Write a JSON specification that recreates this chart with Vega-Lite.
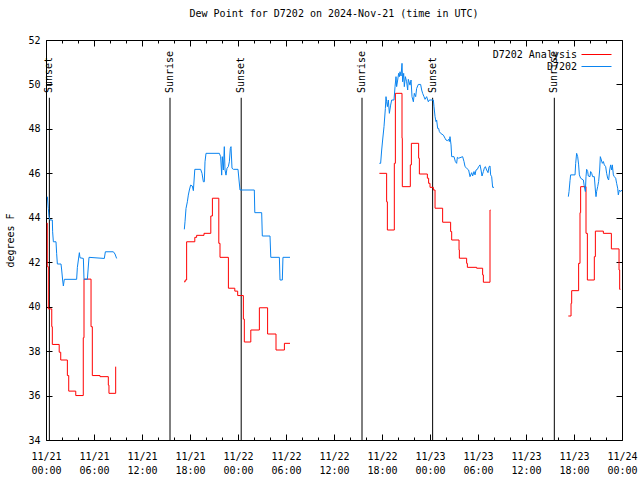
{
  "$schema": "https://vega.github.io/schema/vega-lite/v6.json",
  "width": 576,
  "height": 400,
  "autosize": {"type": "none"},
  "padding": {"left": 46, "top": 40, "right": 18, "bottom": 40},
  "background": "white",
  "title": {"text": "Dew Point for D7202 on 2024-Nov-21 (time in UTC)", "font": "DejaVu Sans Mono", "fontSize": 10, "fontWeight": "normal", "offset": 16, "anchor": "middle", "color": "black"},
  "config": {
    "view": {"stroke": "black", "strokeWidth": 1},
    "font": "DejaVu Sans Mono",
    "axis": {"domain": false, "grid": false, "tickColor": "black", "tickWidth": 1, "labelColor": "black", "labelFont": "DejaVu Sans Mono", "labelFontSize": 10, "titleFont": "DejaVu Sans Mono", "titleFontSize": 10, "titleFontWeight": "normal", "titleColor": "black"},
    "legend": {"labelFont": "DejaVu Sans Mono", "labelFontSize": 10, "labelColor": "black"}
  },
  "datasets": {
    "sun": [
      {"event": "Sunset", "hour": 0.42},
      {"event": "Sunrise", "hour": 15.5},
      {"event": "Sunset", "hour": 24.4},
      {"event": "Sunrise", "hour": 39.5},
      {"event": "Sunset", "hour": 48.33},
      {"event": "Sunrise", "hour": 63.54}
    ],
    "dew": [
      {"series": "D7202 Analysis", "seg": 1, "hour": 0.09, "dewpoint": 43.76},
      {"series": "D7202 Analysis", "seg": 1, "hour": 0.16, "dewpoint": 41.8},
      {"series": "D7202 Analysis", "seg": 1, "hour": 0.29, "dewpoint": 39.9},
      {"series": "D7202 Analysis", "seg": 1, "hour": 0.72, "dewpoint": 39.1},
      {"series": "D7202 Analysis", "seg": 1, "hour": 0.79, "dewpoint": 38.3},
      {"series": "D7202 Analysis", "seg": 1, "hour": 1.65, "dewpoint": 37.95},
      {"series": "D7202 Analysis", "seg": 1, "hour": 1.84, "dewpoint": 37.6},
      {"series": "D7202 Analysis", "seg": 1, "hour": 2.67, "dewpoint": 36.9},
      {"series": "D7202 Analysis", "seg": 1, "hour": 2.84, "dewpoint": 36.2},
      {"series": "D7202 Analysis", "seg": 1, "hour": 3.72, "dewpoint": 36.0},
      {"series": "D7202 Analysis", "seg": 1, "hour": 4.66, "dewpoint": 38.6},
      {"series": "D7202 Analysis", "seg": 1, "hour": 4.75, "dewpoint": 41.24},
      {"series": "D7202 Analysis", "seg": 1, "hour": 5.63, "dewpoint": 39.1},
      {"series": "D7202 Analysis", "seg": 1, "hour": 5.79, "dewpoint": 36.9},
      {"series": "D7202 Analysis", "seg": 1, "hour": 6.75, "dewpoint": 36.85},
      {"series": "D7202 Analysis", "seg": 1, "hour": 7.79, "dewpoint": 36.47},
      {"series": "D7202 Analysis", "seg": 1, "hour": 7.87, "dewpoint": 36.1},
      {"series": "D7202 Analysis", "seg": 1, "hour": 8.71, "dewpoint": 37.3},

      {"series": "D7202", "seg": 1, "hour": 0.17, "dewpoint": 44.95},
      {"series": "D7202", "seg": 1, "hour": 0.29, "dewpoint": 44.42},
      {"series": "D7202", "seg": 1, "hour": 0.375, "dewpoint": 44.05},
      {"series": "D7202", "seg": 1, "hour": 0.5, "dewpoint": 43.9},
      {"series": "D7202", "seg": 1, "hour": 0.79, "dewpoint": 43.9},
      {"series": "D7202", "seg": 1, "hour": 0.83, "dewpoint": 43.37},
      {"series": "D7202", "seg": 1, "hour": 0.92, "dewpoint": 42.92},
      {"series": "D7202", "seg": 1, "hour": 1.25, "dewpoint": 42.92},
      {"series": "D7202", "seg": 1, "hour": 1.33, "dewpoint": 42.4},
      {"series": "D7202", "seg": 1, "hour": 1.42, "dewpoint": 41.92},
      {"series": "D7202", "seg": 1, "hour": 1.875, "dewpoint": 41.92},
      {"series": "D7202", "seg": 1, "hour": 1.96, "dewpoint": 41.65},
      {"series": "D7202", "seg": 1, "hour": 2.08, "dewpoint": 41.2},
      {"series": "D7202", "seg": 1, "hour": 2.17, "dewpoint": 40.93},
      {"series": "D7202", "seg": 1, "hour": 2.29, "dewpoint": 41.23},
      {"series": "D7202", "seg": 1, "hour": 3.83, "dewpoint": 41.23},
      {"series": "D7202", "seg": 1, "hour": 3.92, "dewpoint": 41.77},
      {"series": "D7202", "seg": 1, "hour": 4.17, "dewpoint": 42.43},
      {"series": "D7202", "seg": 1, "hour": 4.25, "dewpoint": 42.2},
      {"series": "D7202", "seg": 1, "hour": 4.67, "dewpoint": 42.17},
      {"series": "D7202", "seg": 1, "hour": 4.75, "dewpoint": 41.23},
      {"series": "D7202", "seg": 1, "hour": 5.17, "dewpoint": 41.23},
      {"series": "D7202", "seg": 1, "hour": 5.375, "dewpoint": 42.22},
      {"series": "D7202", "seg": 1, "hour": 7.29, "dewpoint": 42.17},
      {"series": "D7202", "seg": 1, "hour": 7.42, "dewpoint": 42.47},
      {"series": "D7202", "seg": 1, "hour": 8.42, "dewpoint": 42.47},
      {"series": "D7202", "seg": 1, "hour": 8.625, "dewpoint": 42.37},
      {"series": "D7202", "seg": 1, "hour": 8.83, "dewpoint": 42.17},

      {"series": "D7202 Analysis", "seg": 2, "hour": 17.25, "dewpoint": 41.12},
      {"series": "D7202 Analysis", "seg": 2, "hour": 17.4, "dewpoint": 41.2},
      {"series": "D7202 Analysis", "seg": 2, "hour": 17.58, "dewpoint": 42.92},
      {"series": "D7202 Analysis", "seg": 2, "hour": 18.6, "dewpoint": 43.12},
      {"series": "D7202 Analysis", "seg": 2, "hour": 18.83, "dewpoint": 43.21},
      {"series": "D7202 Analysis", "seg": 2, "hour": 19.75, "dewpoint": 43.3},
      {"series": "D7202 Analysis", "seg": 2, "hour": 20.6, "dewpoint": 44.08},
      {"series": "D7202 Analysis", "seg": 2, "hour": 20.8, "dewpoint": 44.88},
      {"series": "D7202 Analysis", "seg": 2, "hour": 21.6, "dewpoint": 42.85},
      {"series": "D7202 Analysis", "seg": 2, "hour": 21.75, "dewpoint": 42.22},
      {"series": "D7202 Analysis", "seg": 2, "hour": 22.8, "dewpoint": 40.83},
      {"series": "D7202 Analysis", "seg": 2, "hour": 23.6, "dewpoint": 40.7},
      {"series": "D7202 Analysis", "seg": 2, "hour": 23.96, "dewpoint": 40.5},
      {"series": "D7202 Analysis", "seg": 2, "hour": 24.67, "dewpoint": 39.44},
      {"series": "D7202 Analysis", "seg": 2, "hour": 24.79, "dewpoint": 38.41},
      {"series": "D7202 Analysis", "seg": 2, "hour": 25.6, "dewpoint": 38.95},
      {"series": "D7202 Analysis", "seg": 2, "hour": 26.67, "dewpoint": 39.95},
      {"series": "D7202 Analysis", "seg": 2, "hour": 27.7, "dewpoint": 38.77},
      {"series": "D7202 Analysis", "seg": 2, "hour": 28.75, "dewpoint": 38.05},
      {"series": "D7202 Analysis", "seg": 2, "hour": 29.8, "dewpoint": 38.35},
      {"series": "D7202 Analysis", "seg": 2, "hour": 30.5, "dewpoint": 38.35},

      {"series": "D7202", "seg": 2, "hour": 17.29, "dewpoint": 43.48},
      {"series": "D7202", "seg": 2, "hour": 17.375, "dewpoint": 43.82},
      {"series": "D7202", "seg": 2, "hour": 17.5, "dewpoint": 44.42},
      {"series": "D7202", "seg": 2, "hour": 17.67, "dewpoint": 44.72},
      {"series": "D7202", "seg": 2, "hour": 17.79, "dewpoint": 45.02},
      {"series": "D7202", "seg": 2, "hour": 17.92, "dewpoint": 45.25},
      {"series": "D7202", "seg": 2, "hour": 18.08, "dewpoint": 45.47},
      {"series": "D7202", "seg": 2, "hour": 18.29, "dewpoint": 45.43},
      {"series": "D7202", "seg": 2, "hour": 18.42, "dewpoint": 45.22},
      {"series": "D7202", "seg": 2, "hour": 18.6, "dewpoint": 46.18},
      {"series": "D7202", "seg": 2, "hour": 19.33, "dewpoint": 46.18},
      {"series": "D7202", "seg": 2, "hour": 19.5, "dewpoint": 46.0},
      {"series": "D7202", "seg": 2, "hour": 19.67, "dewpoint": 45.62},
      {"series": "D7202", "seg": 2, "hour": 19.79, "dewpoint": 45.62},
      {"series": "D7202", "seg": 2, "hour": 19.875, "dewpoint": 46.52},
      {"series": "D7202", "seg": 2, "hour": 20.0, "dewpoint": 46.9},
      {"series": "D7202", "seg": 2, "hour": 21.67, "dewpoint": 46.9},
      {"series": "D7202", "seg": 2, "hour": 21.83, "dewpoint": 46.75},
      {"series": "D7202", "seg": 2, "hour": 21.96, "dewpoint": 45.92},
      {"series": "D7202", "seg": 2, "hour": 22.04, "dewpoint": 46.75},
      {"series": "D7202", "seg": 2, "hour": 22.17, "dewpoint": 46.15},
      {"series": "D7202", "seg": 2, "hour": 22.29, "dewpoint": 47.2},
      {"series": "D7202", "seg": 2, "hour": 22.375, "dewpoint": 46.15},
      {"series": "D7202", "seg": 2, "hour": 22.5, "dewpoint": 45.92},
      {"series": "D7202", "seg": 2, "hour": 22.625, "dewpoint": 46.23},
      {"series": "D7202", "seg": 2, "hour": 22.79, "dewpoint": 46.3},
      {"series": "D7202", "seg": 2, "hour": 22.92, "dewpoint": 46.52},
      {"series": "D7202", "seg": 2, "hour": 23.04, "dewpoint": 47.12},
      {"series": "D7202", "seg": 2, "hour": 23.125, "dewpoint": 47.2},
      {"series": "D7202", "seg": 2, "hour": 23.25, "dewpoint": 46.23},
      {"series": "D7202", "seg": 2, "hour": 23.42, "dewpoint": 46.18},
      {"series": "D7202", "seg": 2, "hour": 24.0, "dewpoint": 46.18},
      {"series": "D7202", "seg": 2, "hour": 24.125, "dewpoint": 45.7},
      {"series": "D7202", "seg": 2, "hour": 24.25, "dewpoint": 45.25},
      {"series": "D7202", "seg": 2, "hour": 26.04, "dewpoint": 45.25},
      {"series": "D7202", "seg": 2, "hour": 26.1, "dewpoint": 44.23},
      {"series": "D7202", "seg": 2, "hour": 26.96, "dewpoint": 44.23},
      {"series": "D7202", "seg": 2, "hour": 27.04, "dewpoint": 43.18},
      {"series": "D7202", "seg": 2, "hour": 28.0, "dewpoint": 43.18},
      {"series": "D7202", "seg": 2, "hour": 28.1, "dewpoint": 42.22},
      {"series": "D7202", "seg": 2, "hour": 29.17, "dewpoint": 42.22},
      {"series": "D7202", "seg": 2, "hour": 29.25, "dewpoint": 41.2},
      {"series": "D7202", "seg": 2, "hour": 29.54, "dewpoint": 41.2},
      {"series": "D7202", "seg": 2, "hour": 29.62, "dewpoint": 42.22},
      {"series": "D7202", "seg": 2, "hour": 30.5, "dewpoint": 42.22},

      {"series": "D7202 Analysis", "seg": 3, "hour": 41.67, "dewpoint": 46.0},
      {"series": "D7202 Analysis", "seg": 3, "hour": 42.58, "dewpoint": 44.72},
      {"series": "D7202 Analysis", "seg": 3, "hour": 42.67, "dewpoint": 43.45},
      {"series": "D7202 Analysis", "seg": 3, "hour": 43.54, "dewpoint": 46.45},
      {"series": "D7202 Analysis", "seg": 3, "hour": 43.67, "dewpoint": 49.6},
      {"series": "D7202 Analysis", "seg": 3, "hour": 44.5, "dewpoint": 47.58},
      {"series": "D7202 Analysis", "seg": 3, "hour": 44.54, "dewpoint": 45.4},
      {"series": "D7202 Analysis", "seg": 3, "hour": 45.54, "dewpoint": 46.38},
      {"series": "D7202 Analysis", "seg": 3, "hour": 45.67, "dewpoint": 47.35},
      {"series": "D7202 Analysis", "seg": 3, "hour": 46.58, "dewpoint": 46.68},
      {"series": "D7202 Analysis", "seg": 3, "hour": 46.67, "dewpoint": 45.97},
      {"series": "D7202 Analysis", "seg": 3, "hour": 47.67, "dewpoint": 45.78},
      {"series": "D7202 Analysis", "seg": 3, "hour": 47.83, "dewpoint": 45.55},
      {"series": "D7202 Analysis", "seg": 3, "hour": 48.0, "dewpoint": 45.37},
      {"series": "D7202 Analysis", "seg": 3, "hour": 48.42, "dewpoint": 45.25},
      {"series": "D7202 Analysis", "seg": 3, "hour": 48.63, "dewpoint": 44.43},
      {"series": "D7202 Analysis", "seg": 3, "hour": 49.58, "dewpoint": 43.8},
      {"series": "D7202 Analysis", "seg": 3, "hour": 50.58, "dewpoint": 43.38},
      {"series": "D7202 Analysis", "seg": 3, "hour": 50.71, "dewpoint": 43.0},
      {"series": "D7202 Analysis", "seg": 3, "hour": 51.63, "dewpoint": 42.55},
      {"series": "D7202 Analysis", "seg": 3, "hour": 51.67, "dewpoint": 42.18},
      {"series": "D7202 Analysis", "seg": 3, "hour": 52.58, "dewpoint": 41.95},
      {"series": "D7202 Analysis", "seg": 3, "hour": 52.67, "dewpoint": 41.77},
      {"series": "D7202 Analysis", "seg": 3, "hour": 53.83, "dewpoint": 41.73},
      {"series": "D7202 Analysis", "seg": 3, "hour": 54.58, "dewpoint": 41.43},
      {"series": "D7202 Analysis", "seg": 3, "hour": 54.67, "dewpoint": 41.1},
      {"series": "D7202 Analysis", "seg": 3, "hour": 55.5, "dewpoint": 44.35},
      {"series": "D7202 Analysis", "seg": 3, "hour": 55.56, "dewpoint": 44.35},

      {"series": "D7202", "seg": 3, "hour": 41.67, "dewpoint": 46.45},
      {"series": "D7202", "seg": 3, "hour": 41.83, "dewpoint": 46.45},
      {"series": "D7202", "seg": 3, "hour": 41.96, "dewpoint": 47.05},
      {"series": "D7202", "seg": 3, "hour": 42.08, "dewpoint": 47.5},
      {"series": "D7202", "seg": 3, "hour": 42.25, "dewpoint": 48.1},
      {"series": "D7202", "seg": 3, "hour": 42.42, "dewpoint": 48.92},
      {"series": "D7202", "seg": 3, "hour": 42.5, "dewpoint": 49.45},
      {"series": "D7202", "seg": 3, "hour": 42.58, "dewpoint": 49.22},
      {"series": "D7202", "seg": 3, "hour": 42.67, "dewpoint": 49.0},
      {"series": "D7202", "seg": 3, "hour": 42.79, "dewpoint": 49.3},
      {"series": "D7202", "seg": 3, "hour": 42.92, "dewpoint": 48.7},
      {"series": "D7202", "seg": 3, "hour": 43.08, "dewpoint": 49.07},
      {"series": "D7202", "seg": 3, "hour": 43.21, "dewpoint": 49.3},
      {"series": "D7202", "seg": 3, "hour": 43.5, "dewpoint": 49.3},
      {"series": "D7202", "seg": 3, "hour": 43.63, "dewpoint": 49.9},
      {"series": "D7202", "seg": 3, "hour": 43.75, "dewpoint": 50.35},
      {"series": "D7202", "seg": 3, "hour": 43.83, "dewpoint": 49.9},
      {"series": "D7202", "seg": 3, "hour": 43.96, "dewpoint": 50.2},
      {"series": "D7202", "seg": 3, "hour": 44.08, "dewpoint": 50.5},
      {"series": "D7202", "seg": 3, "hour": 44.17, "dewpoint": 50.35},
      {"series": "D7202", "seg": 3, "hour": 44.25, "dewpoint": 50.57},
      {"series": "D7202", "seg": 3, "hour": 44.38, "dewpoint": 50.38},
      {"series": "D7202", "seg": 3, "hour": 44.5, "dewpoint": 50.95},
      {"series": "D7202", "seg": 3, "hour": 44.58, "dewpoint": 50.12},
      {"series": "D7202", "seg": 3, "hour": 44.71, "dewpoint": 50.5},
      {"series": "D7202", "seg": 3, "hour": 44.79, "dewpoint": 49.9},
      {"series": "D7202", "seg": 3, "hour": 44.92, "dewpoint": 50.35},
      {"series": "D7202", "seg": 3, "hour": 45.08, "dewpoint": 50.12},
      {"series": "D7202", "seg": 3, "hour": 45.21, "dewpoint": 49.75},
      {"series": "D7202", "seg": 3, "hour": 45.29, "dewpoint": 50.23},
      {"series": "D7202", "seg": 3, "hour": 45.5, "dewpoint": 49.97},
      {"series": "D7202", "seg": 3, "hour": 45.63, "dewpoint": 50.2},
      {"series": "D7202", "seg": 3, "hour": 45.75, "dewpoint": 49.45},
      {"series": "D7202", "seg": 3, "hour": 45.92, "dewpoint": 49.22},
      {"series": "D7202", "seg": 3, "hour": 46.04, "dewpoint": 49.6},
      {"series": "D7202", "seg": 3, "hour": 46.21, "dewpoint": 49.45},
      {"series": "D7202", "seg": 3, "hour": 46.33, "dewpoint": 49.82},
      {"series": "D7202", "seg": 3, "hour": 46.54, "dewpoint": 50.0},
      {"series": "D7202", "seg": 3, "hour": 46.83, "dewpoint": 50.0},
      {"series": "D7202", "seg": 3, "hour": 46.96, "dewpoint": 49.75},
      {"series": "D7202", "seg": 3, "hour": 47.08, "dewpoint": 49.6},
      {"series": "D7202", "seg": 3, "hour": 47.25, "dewpoint": 49.45},
      {"series": "D7202", "seg": 3, "hour": 47.38, "dewpoint": 49.33},
      {"series": "D7202", "seg": 3, "hour": 47.58, "dewpoint": 49.45},
      {"series": "D7202", "seg": 3, "hour": 47.79, "dewpoint": 49.22},
      {"series": "D7202", "seg": 3, "hour": 47.92, "dewpoint": 49.3},
      {"series": "D7202", "seg": 3, "hour": 48.42, "dewpoint": 49.3},
      {"series": "D7202", "seg": 3, "hour": 48.5, "dewpoint": 49.0},
      {"series": "D7202", "seg": 3, "hour": 48.63, "dewpoint": 48.55},
      {"series": "D7202", "seg": 3, "hour": 48.75, "dewpoint": 48.33},
      {"series": "D7202", "seg": 3, "hour": 48.83, "dewpoint": 48.4},
      {"series": "D7202", "seg": 3, "hour": 48.96, "dewpoint": 48.02},
      {"series": "D7202", "seg": 3, "hour": 49.08, "dewpoint": 48.02},
      {"series": "D7202", "seg": 3, "hour": 49.17, "dewpoint": 47.88},
      {"series": "D7202", "seg": 3, "hour": 49.33, "dewpoint": 47.8},
      {"series": "D7202", "seg": 3, "hour": 49.67, "dewpoint": 47.72},
      {"series": "D7202", "seg": 3, "hour": 49.88, "dewpoint": 47.58},
      {"series": "D7202", "seg": 3, "hour": 50.0, "dewpoint": 47.5},
      {"series": "D7202", "seg": 3, "hour": 50.17, "dewpoint": 47.47},
      {"series": "D7202", "seg": 3, "hour": 50.33, "dewpoint": 47.53},
      {"series": "D7202", "seg": 3, "hour": 50.42, "dewpoint": 47.43},
      {"series": "D7202", "seg": 3, "hour": 50.5, "dewpoint": 47.65},
      {"series": "D7202", "seg": 3, "hour": 50.63, "dewpoint": 47.28},
      {"series": "D7202", "seg": 3, "hour": 50.71, "dewpoint": 46.75},
      {"series": "D7202", "seg": 3, "hour": 51.0, "dewpoint": 46.75},
      {"series": "D7202", "seg": 3, "hour": 51.17, "dewpoint": 46.53},
      {"series": "D7202", "seg": 3, "hour": 51.33, "dewpoint": 46.45},
      {"series": "D7202", "seg": 3, "hour": 51.42, "dewpoint": 46.72},
      {"series": "D7202", "seg": 3, "hour": 51.58, "dewpoint": 46.68},
      {"series": "D7202", "seg": 3, "hour": 52.08, "dewpoint": 46.75},
      {"series": "D7202", "seg": 3, "hour": 52.25, "dewpoint": 46.53},
      {"series": "D7202", "seg": 3, "hour": 52.38, "dewpoint": 46.3},
      {"series": "D7202", "seg": 3, "hour": 52.58, "dewpoint": 46.23},
      {"series": "D7202", "seg": 3, "hour": 52.83, "dewpoint": 46.15},
      {"series": "D7202", "seg": 3, "hour": 53.0, "dewpoint": 45.85},
      {"series": "D7202", "seg": 3, "hour": 53.21, "dewpoint": 46.03},
      {"series": "D7202", "seg": 3, "hour": 53.33, "dewpoint": 45.88},
      {"series": "D7202", "seg": 3, "hour": 53.5, "dewpoint": 46.08},
      {"series": "D7202", "seg": 3, "hour": 53.63, "dewpoint": 45.93},
      {"series": "D7202", "seg": 3, "hour": 53.75, "dewpoint": 46.15},
      {"series": "D7202", "seg": 3, "hour": 53.92, "dewpoint": 46.18},
      {"series": "D7202", "seg": 3, "hour": 54.08, "dewpoint": 46.3},
      {"series": "D7202", "seg": 3, "hour": 54.25, "dewpoint": 46.38},
      {"series": "D7202", "seg": 3, "hour": 54.38, "dewpoint": 46.15},
      {"series": "D7202", "seg": 3, "hour": 54.5, "dewpoint": 45.88},
      {"series": "D7202", "seg": 3, "hour": 54.67, "dewpoint": 46.08},
      {"series": "D7202", "seg": 3, "hour": 54.79, "dewpoint": 46.23},
      {"series": "D7202", "seg": 3, "hour": 54.92, "dewpoint": 46.3},
      {"series": "D7202", "seg": 3, "hour": 55.08, "dewpoint": 46.15},
      {"series": "D7202", "seg": 3, "hour": 55.25, "dewpoint": 46.03},
      {"series": "D7202", "seg": 3, "hour": 55.38, "dewpoint": 46.3},
      {"series": "D7202", "seg": 3, "hour": 55.5, "dewpoint": 46.33},
      {"series": "D7202", "seg": 3, "hour": 55.58, "dewpoint": 45.93},
      {"series": "D7202", "seg": 3, "hour": 55.71, "dewpoint": 45.85},
      {"series": "D7202", "seg": 3, "hour": 55.83, "dewpoint": 45.37},
      {"series": "D7202", "seg": 3, "hour": 56.0, "dewpoint": 45.37},

      {"series": "D7202 Analysis", "seg": 4, "hour": 65.29, "dewpoint": 39.58},
      {"series": "D7202 Analysis", "seg": 4, "hour": 65.63, "dewpoint": 40.15},
      {"series": "D7202 Analysis", "seg": 4, "hour": 65.71, "dewpoint": 40.72},
      {"series": "D7202 Analysis", "seg": 4, "hour": 66.58, "dewpoint": 41.95},
      {"series": "D7202 Analysis", "seg": 4, "hour": 66.75, "dewpoint": 44.23},
      {"series": "D7202 Analysis", "seg": 4, "hour": 66.83, "dewpoint": 45.4},
      {"series": "D7202 Analysis", "seg": 4, "hour": 67.5, "dewpoint": 43.3},
      {"series": "D7202 Analysis", "seg": 4, "hour": 67.67, "dewpoint": 41.2},
      {"series": "D7202 Analysis", "seg": 4, "hour": 68.54, "dewpoint": 42.25},
      {"series": "D7202 Analysis", "seg": 4, "hour": 68.67, "dewpoint": 43.4},
      {"series": "D7202 Analysis", "seg": 4, "hour": 69.67, "dewpoint": 43.3},
      {"series": "D7202 Analysis", "seg": 4, "hour": 70.67, "dewpoint": 42.6},
      {"series": "D7202 Analysis", "seg": 4, "hour": 71.63, "dewpoint": 41.65},
      {"series": "D7202 Analysis", "seg": 4, "hour": 71.71, "dewpoint": 40.78},
      {"series": "D7202 Analysis", "seg": 4, "hour": 71.8, "dewpoint": 40.78},

      {"series": "D7202", "seg": 4, "hour": 65.29, "dewpoint": 44.95},
      {"series": "D7202", "seg": 4, "hour": 65.38, "dewpoint": 45.18},
      {"series": "D7202", "seg": 4, "hour": 65.5, "dewpoint": 45.67},
      {"series": "D7202", "seg": 4, "hour": 65.58, "dewpoint": 45.93},
      {"series": "D7202", "seg": 4, "hour": 66.13, "dewpoint": 45.93},
      {"series": "D7202", "seg": 4, "hour": 66.21, "dewpoint": 46.45},
      {"series": "D7202", "seg": 4, "hour": 66.33, "dewpoint": 46.9},
      {"series": "D7202", "seg": 4, "hour": 66.46, "dewpoint": 46.75},
      {"series": "D7202", "seg": 4, "hour": 66.58, "dewpoint": 46.38},
      {"series": "D7202", "seg": 4, "hour": 66.67, "dewpoint": 45.93},
      {"series": "D7202", "seg": 4, "hour": 66.83, "dewpoint": 45.78},
      {"series": "D7202", "seg": 4, "hour": 67.17, "dewpoint": 45.7},
      {"series": "D7202", "seg": 4, "hour": 67.29, "dewpoint": 45.4},
      {"series": "D7202", "seg": 4, "hour": 67.42, "dewpoint": 45.18},
      {"series": "D7202", "seg": 4, "hour": 67.5, "dewpoint": 45.85},
      {"series": "D7202", "seg": 4, "hour": 67.58, "dewpoint": 46.18},
      {"series": "D7202", "seg": 4, "hour": 67.71, "dewpoint": 46.08},
      {"series": "D7202", "seg": 4, "hour": 67.79, "dewpoint": 45.88},
      {"series": "D7202", "seg": 4, "hour": 68.0, "dewpoint": 45.85},
      {"series": "D7202", "seg": 4, "hour": 68.08, "dewpoint": 46.08},
      {"series": "D7202", "seg": 4, "hour": 68.21, "dewpoint": 46.0},
      {"series": "D7202", "seg": 4, "hour": 68.33, "dewpoint": 45.85},
      {"series": "D7202", "seg": 4, "hour": 68.54, "dewpoint": 45.85},
      {"series": "D7202", "seg": 4, "hour": 68.67, "dewpoint": 45.25},
      {"series": "D7202", "seg": 4, "hour": 68.75, "dewpoint": 44.95},
      {"series": "D7202", "seg": 4, "hour": 68.83, "dewpoint": 45.18},
      {"series": "D7202", "seg": 4, "hour": 68.96, "dewpoint": 45.4},
      {"series": "D7202", "seg": 4, "hour": 69.08, "dewpoint": 45.63},
      {"series": "D7202", "seg": 4, "hour": 69.21, "dewpoint": 46.15},
      {"series": "D7202", "seg": 4, "hour": 69.29, "dewpoint": 46.75},
      {"series": "D7202", "seg": 4, "hour": 69.42, "dewpoint": 46.6},
      {"series": "D7202", "seg": 4, "hour": 69.54, "dewpoint": 46.45},
      {"series": "D7202", "seg": 4, "hour": 69.67, "dewpoint": 46.53},
      {"series": "D7202", "seg": 4, "hour": 69.79, "dewpoint": 46.38},
      {"series": "D7202", "seg": 4, "hour": 69.96, "dewpoint": 46.3},
      {"series": "D7202", "seg": 4, "hour": 70.08, "dewpoint": 46.0},
      {"series": "D7202", "seg": 4, "hour": 70.21, "dewpoint": 45.78},
      {"series": "D7202", "seg": 4, "hour": 70.33, "dewpoint": 45.7},
      {"series": "D7202", "seg": 4, "hour": 70.46, "dewpoint": 46.15},
      {"series": "D7202", "seg": 4, "hour": 70.58, "dewpoint": 46.38},
      {"series": "D7202", "seg": 4, "hour": 70.71, "dewpoint": 46.15},
      {"series": "D7202", "seg": 4, "hour": 70.79, "dewpoint": 46.38},
      {"series": "D7202", "seg": 4, "hour": 70.92, "dewpoint": 45.93},
      {"series": "D7202", "seg": 4, "hour": 71.04, "dewpoint": 45.85},
      {"series": "D7202", "seg": 4, "hour": 71.21, "dewpoint": 45.78},
      {"series": "D7202", "seg": 4, "hour": 71.33, "dewpoint": 45.55},
      {"series": "D7202", "seg": 4, "hour": 71.46, "dewpoint": 45.33},
      {"series": "D7202", "seg": 4, "hour": 71.54, "dewpoint": 45.03},
      {"series": "D7202", "seg": 4, "hour": 71.67, "dewpoint": 45.25},
      {"series": "D7202", "seg": 4, "hour": 71.83, "dewpoint": 45.18},
      {"series": "D7202", "seg": 4, "hour": 72.0, "dewpoint": 45.25}
    ]
  },
  "resolve": {"axis": {"x": "independent", "y": "independent"}},
  "layer": [
    {
      "data": {"name": "sun"},
      "mark": {"type": "rule", "color": "black", "strokeWidth": 1},
      "encoding": {
        "x": {"field": "hour", "type": "quantitative", "scale": {"domain": [0, 72], "nice": false, "zero": false},
              "axis": {"orient": "top", "values": [0,2,4,6,8,10,12,14,16,18,20,22,24,26,28,30,32,34,36,38,40,42,44,46,48,50,52,54,56,58,60,62,64,66,68,70,72], "labels": false, "title": null,
                       "tickSize": {"condition": {"test": "datum.value % 6 == 0", "value": -6}, "value": -3}}},
        "y": {"datum": 49.4, "type": "quantitative", "scale": {"domain": [34, 52], "nice": false, "zero": false},
              "axis": {"orient": "right", "values": [34,36,38,40,42,44,46,48,50,52], "labels": false, "title": null, "tickSize": -6}},
        "y2": {"datum": 34}
      }
    },
    {
      "data": {"name": "sun"},
      "mark": {"type": "text", "angle": 270, "align": "left", "baseline": "middle", "dx": -53, "font": "DejaVu Sans Mono", "fontSize": 10, "color": "black"},
      "encoding": {
        "x": {"field": "hour", "type": "quantitative", "axis": null},
        "y": {"datum": 52, "type": "quantitative", "axis": null},
        "text": {"field": "event"}
      }
    },
    {
      "data": {"name": "dew"},
      "transform": [{"filter": "datum.series == 'D7202 Analysis'"}],
      "mark": {"type": "line", "interpolate": "step-after", "strokeWidth": 1},
      "encoding": {
        "x": {"field": "hour", "type": "quantitative",
              "axis": {"orient": "bottom", "values": [0,2,4,6,8,10,12,14,16,18,20,22,24,26,28,30,32,34,36,38,40,42,44,46,48,50,52,54,56,58,60,62,64,66,68,70,72], "title": null,
                       "tickSize": {"condition": {"test": "datum.value % 6 == 0", "value": -6}, "value": -3},
                       "labelPadding": 17, "labelLineHeight": 14, "labelBaseline": "top", "labelFlush": false, "labelOverlap": false,
                       "labelExpr": "datum.value % 6 == 0 ? ['11/' + (21 + floor(datum.value / 24)), (datum.value % 24 < 10 ? '0' : '') + (datum.value % 24) + ':00'] : ''"}},
        "y": {"field": "dewpoint", "type": "quantitative",
              "axis": {"orient": "left", "values": [34,36,38,40,42,44,46,48,50,52], "title": "degrees F", "tickSize": -6, "labelPadding": 12, "titlePadding": 12}},
        "color": {"field": "series", "type": "nominal",
                  "scale": {"domain": ["D7202 Analysis", "D7202"], "range": ["#ff0000", "#0a84f0"]},
                  "legend": {"orient": "top-right", "title": null, "offset": 8, "symbolType": "M-2.5,0H2.5", "symbolSize": 144, "symbolStrokeWidth": 1, "rowPadding": 0, "labelAlign": "right", "labelOffset": -26, "labelFont": "DejaVu Sans Mono", "labelFontSize": 10,
                             "encode": {"symbols": {"update": {"stroke": {"scale": "color", "field": "value"}}}}}},
        "detail": {"field": "seg", "type": "nominal"}
      }
    },
    {
      "data": {"name": "dew"},
      "transform": [{"filter": "datum.series == 'D7202'"}],
      "mark": {"type": "line", "strokeWidth": 1},
      "encoding": {
        "x": {"field": "hour", "type": "quantitative", "axis": null},
        "y": {"field": "dewpoint", "type": "quantitative", "axis": null},
        "color": {"field": "series", "type": "nominal"},
        "detail": {"field": "seg", "type": "nominal"}
      }
    }
  ]
}
